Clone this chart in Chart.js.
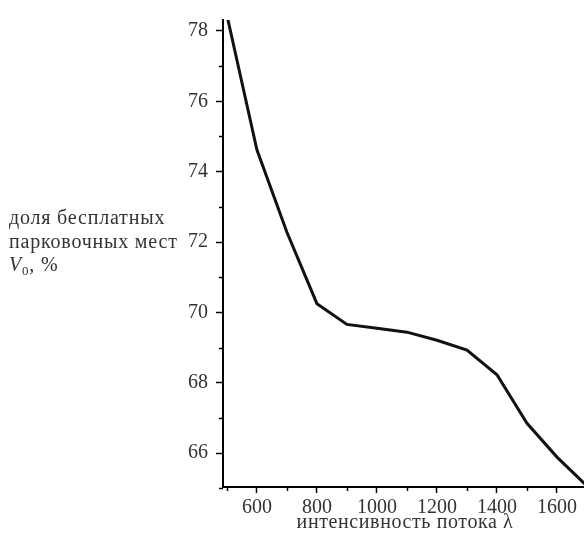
<!DOCTYPE html>
<html>
<head>
<meta charset="utf-8">
<script src="https://cdn.jsdelivr.net/npm/chart.js@4.4.1/dist/chart.umd.min.js"></script>
<style>
  html, body { margin: 0; padding: 0; background: #fff; }
  #wrap { width: 584px; height: 533px; }
</style>
</head>
<body>
<div id="wrap"><canvas id="myChart"></canvas></div>
<script>
// data
var intensity = [500, 600, 700, 800, 900, 1000, 1100, 1200, 1300, 1400, 1500, 1600, 1700];
var freeShare = [78.45, 74.62, 72.28, 70.25, 69.66, 69.55, 69.44, 69.21, 68.93, 68.23, 66.85, 65.89, 65.07];

var xMajor = [600, 800, 1000, 1200, 1400, 1600];
var xMinor = [500, 700, 900, 1100, 1300, 1500];
var yMajor = [66, 68, 70, 72, 74, 76, 78];
var yMinor = [65, 67, 69, 71, 73, 75, 77];

var xTitle = 'интенсивность потока λ';
var yTitleLines = ['доля бесплатных', 'парковочных мест'];

var serif = '"Liberation Serif", "DejaVu Serif", serif';
var textCol = '#333';
var fontSize = 20;

var points = [];
for (var i = 0; i < intensity.length; i += 1) {
  points.push({x: intensity[i], y: freeShare[i]});
}

// short minor ticks + the two titles
var extras = {
  id: 'extras',
  afterDraw: function (chart) {
    var ctx = chart.ctx;
    var xs = chart.scales.x, ys = chart.scales.y;
    var area = chart.chartArea;
    ctx.save();
    ctx.strokeStyle = '#000';
    ctx.lineWidth = 1.5;
    xMinor.forEach(function (v) {
      var px = Math.round(xs.getPixelForValue(v)) + 0.5;
      ctx.beginPath(); ctx.moveTo(px, area.bottom); ctx.lineTo(px, area.bottom + 4); ctx.stroke();
    });
    yMinor.forEach(function (v) {
      var py = Math.round(ys.getPixelForValue(v)) + 0.5;
      if (py < area.top) return;
      ctx.beginPath(); ctx.moveTo(area.left, py); ctx.lineTo(area.left - 4, py); ctx.stroke();
    });

    ctx.fillStyle = textCol;
    ctx.textBaseline = 'middle';
    ctx.textAlign = 'left';
    ctx.letterSpacing = '0.8px';
    ctx.font = fontSize + 'px ' + serif;
    ctx.fillText(yTitleLines[0], 9, 219);
    ctx.fillText(yTitleLines[1], 9, 243);
    ctx.font = 'italic ' + fontSize + 'px ' + serif;
    ctx.fillText('V', 9, 266);
    var w = ctx.measureText('V').width;
    ctx.font = '13px ' + serif;
    ctx.fillText('0', 9 + w, 272);
    var w2 = ctx.measureText('0').width;
    ctx.font = fontSize + 'px ' + serif;
    ctx.fillText(', %', 9 + w + w2, 266);

    // x axis title
    ctx.letterSpacing = '0.6px';
    ctx.textAlign = 'center';
    ctx.fillText(xTitle, 405, 523);
    ctx.restore();
  }
};

var createChart = function () {
  var $ctx = document.getElementById('myChart');
  return new Chart($ctx, {
    type: 'line',
    data: {
      datasets: [{
        data: points,
        borderColor: '#111',
        borderWidth: 3,
        pointRadius: 0,
        tension: 0,
        fill: false
      }]
    },
    options: {
      responsive: true,
      maintainAspectRatio: false,
      animation: false,
      layout: { padding: { top: 12, right: 0, bottom: 0, left: 0 } },
      plugins: { legend: { display: false }, tooltip: { enabled: false } },
      scales: {
        x: {
          type: 'linear',
          min: 487,
          max: 1690,
          afterBuildTicks: function (scale) {
            scale.ticks = xMajor.map(function (v) { return {value: v}; });
          },
          afterFit: function (scale) { scale.height = 46; },
          border: { display: true, color: '#000', width: 2 },
          grid: { drawOnChartArea: false, drawTicks: true, tickLength: 6, tickColor: '#000', tickWidth: 1.5 },
          ticks: {
            color: textCol,
            padding: 3,
            maxRotation: 0,
            font: { family: serif, size: fontSize },
            callback: function (v) { return String(v); }
          }
        },
        y: {
          type: 'linear',
          min: 65.04,
          max: 78.31,
          afterBuildTicks: function (scale) {
            scale.ticks = yMajor.map(function (v) { return {value: v}; });
          },
          afterFit: function (scale) { scale.width = 223; },
          border: { display: true, color: '#000', width: 2 },
          grid: { drawOnChartArea: false, drawTicks: true, tickLength: 7, tickColor: '#000', tickWidth: 1.5 },
          ticks: {
            color: textCol,
            padding: 8,
            font: { family: serif, size: fontSize },
            callback: function (v) { return String(v); }
          }
        }
      }
    },
    plugins: [extras]
  });
};

var myChart = createChart();
</script>
</body>
</html>
